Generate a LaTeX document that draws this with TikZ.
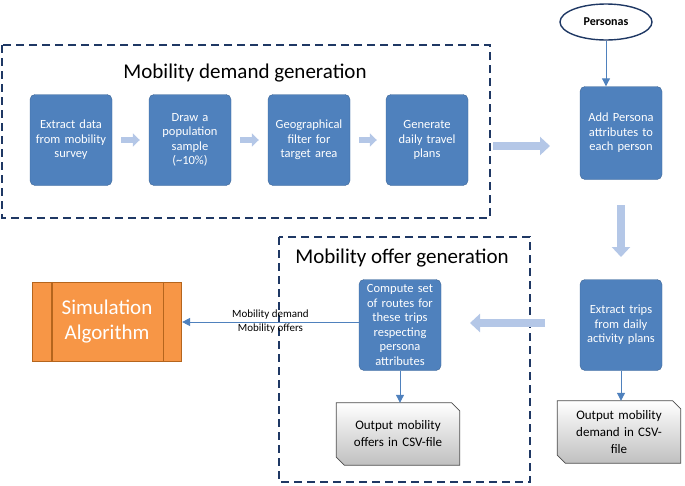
\documentclass[tikz,border=0pt]{standalone}
\usepackage{fontspec}
\setmainfont{Carlito}
\usetikzlibrary{arrows.meta, shapes.geometric, calc}
\definecolor{stepblue}{HTML}{4F81BD}
\definecolor{fatblue}{HTML}{B4C7E7}
\definecolor{framenavy}{HTML}{1F3864}
\definecolor{simorange}{HTML}{F79646}
\definecolor{simedge}{HTML}{B5651D}
\tikzset{
  stage/.style={fill=stepblue, draw=stepblue!80!black, rounded corners=5pt, text=white,
    minimum width=82pt, minimum height=91pt, text width=72pt, align=center,
    font=\fontsize{12.5}{14.5}\selectfont},
  frame/.style={draw=framenavy, line width=1.6pt, dash pattern=on 8pt off 5pt},
  bigarrow/.style={fatblue, line width=8pt, -{Triangle[length=10pt, width=18pt]}},
  smallarrow/.style={fatblue, line width=6pt, -{Triangle[length=7pt, width=13pt]}},
  link/.style={stepblue, line width=1pt, -{Triangle[length=8pt, width=8pt]}},
  doc/.style={minimum width=123pt, minimum height=62pt, text width=100pt, align=center,
    font=\fontsize{13}{17}\selectfont}
}
\newcommand{\docshape}[1]{%
  \shade[top color=white, bottom color=black!25, draw=black!70, line width=0.8pt]
    (#1.north west) -- ($(#1.north east)+(-8pt,0)$) -- ($(#1.north east)+(0,-8pt)$)
    -- (#1.south east) -- ($(#1.south west)+(8pt,0)$) -- ($(#1.south west)+(0,8pt)$) -- cycle;}
\begin{document}
\begin{tikzpicture}[x=1pt, y=-1pt]
  \useasboundingbox (0,0) rectangle (685,485);
  \hyphenpenalty=10000

  % demand generation
  \draw [frame] (2,45) rectangle (490,218);
  \node (demandtitle) at (245,73) {\fontsize{21}{24}\selectfont Mobility demand generation};
  \node [stage] (extract) at (71,140) {Extract data from mobility survey};
  \node [stage] (sample) at (190,140) {Draw a population sample (\textasciitilde10\%)};
  \node [stage] (geo) at (309,140) {Geographical filter for target area};
  \node [stage] (plans) at (427,140) {Generate daily travel plans};
  \draw [smallarrow] ($(extract.east)+(9pt,0)$) -- ($(sample.west)+(-9pt,0)$);
  \draw [smallarrow] ($(sample.east)+(9pt,0)$) -- ($(geo.west)+(-9pt,0)$);
  \draw [smallarrow] ($(geo.east)+(9pt,0)$) -- ($(plans.west)+(-9pt,0)$);

  % personas
  \node [ellipse, draw=framenavy, line width=1.4pt, minimum width=92pt, minimum height=36pt,
    font=\bfseries\fontsize{12}{14}\selectfont] (personas) at (606,22) {Personas};
  \node [stage, minimum height=93pt] (addpersona) at (621,133) {Add Persona attributes to each person};
  \node [stage] (trips) at (621,325) {Extract trips from daily activity plans};
  \node [doc] (demandcsv) at (619,432) {};
  \docshape{demandcsv}
  \node [doc] at (demandcsv) {Output mobility\\demand in CSV-\\file};
  \coordinate (fatstart) at (493,146);
  \coordinate (fatend) at (550,146);
  \draw [bigarrow] (fatstart) -- (fatend);
  \draw [link] (personas) -- (personas |- addpersona.north);
  \coordinate (downstart) at (621,205);
  \coordinate (downend) at (621,257);
  \draw [bigarrow] (downstart) -- (downend);
  \draw [link] (trips.south) -- (trips.south |- demandcsv.north);

  % offer generation
  \draw [frame] (279,237) rectangle (530,482);
  \node (offertitle) at (402,258) {\fontsize{21}{24}\selectfont Mobility offer generation};
  \node [stage] (routes) at (400,325) {Compute set of routes for these trips respecting persona attributes};
  \node [doc] (offercsv) at (398,434) {};
  \docshape{offercsv}
  \node [doc] at (offercsv) {Output mobility offers in CSV-file};
  \coordinate (leftstart) at (545,323);
  \coordinate (leftend) at (470,323);
  \draw [bigarrow] (leftstart) -- (leftend);
  \draw [link] (routes.south) -- (routes.south |- offercsv.north);

  % simulation
  \node [fill=simorange, draw=simedge, line width=1.2pt, minimum width=149pt, minimum height=79pt,
    text=white, align=center, font=\fontsize{21}{25}\selectfont] (sim) at (107,322) {Simulation\\Algorithm};
  \draw [simedge, line width=1.2pt] ($(sim.north west)+(20pt,0)$) -- ($(sim.south west)+(20pt,0)$);
  \draw [simedge, line width=1.2pt] ($(sim.north east)+(-19pt,0)$) -- ($(sim.south east)+(-19pt,0)$);
  \draw [link] (routes.west |- sim.east) -- (sim.east)
    node [pos=0.5, align=center, font=\fontsize{11}{14}\selectfont, text=black] {Mobility demand\\Mobility offers};
\end{tikzpicture}
\end{document}
